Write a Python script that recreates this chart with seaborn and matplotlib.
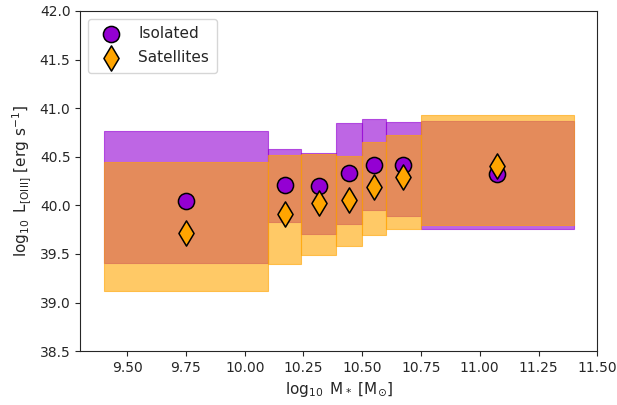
import numpy as np
import pandas as pd
import matplotlib
matplotlib.use("Agg")
import matplotlib.pyplot as plt
import seaborn as sns

# stellar-mass bin edges and centres
bin_lo = [9.40, 10.10, 10.24, 10.39, 10.50, 10.60, 10.75]
bin_hi = [10.10, 10.24, 10.39, 10.50, 10.60, 10.75, 11.40]
bin_mid = [9.75, 10.17, 10.315, 10.445, 10.55, 10.675, 11.075]

# isolated: median and spread
iso_med = [40.04, 40.21, 40.20, 40.33, 40.41, 40.41, 40.32]
iso_lo = [39.41, 39.83, 39.71, 39.81, 39.95, 39.89, 39.76]
iso_hi = [40.76, 40.58, 40.54, 40.85, 40.89, 40.86, 40.87]

# satellites: median and spread
sat_med = [39.72, 39.91, 40.02, 40.06, 40.19, 40.29, 40.40]
sat_lo = [39.12, 39.40, 39.49, 39.58, 39.69, 39.76, 39.80]
sat_hi = [40.45, 40.52, 40.53, 40.51, 40.65, 40.72, 40.93]

iso_col = "darkviolet"
sat_col = "orange"

sns.set_style("ticks")
plt.rcParams['font.family'] = ['DejaVu Sans']

fig = plt.figure(figsize=(6.17, 4.05), dpi=100)
ax = fig.add_axes([0.13, 0.133, 0.838, 0.84])

for i in range(len(bin_lo)):
    ax.fill_between([bin_lo[i], bin_hi[i]], iso_lo[i], iso_hi[i],
                    color=iso_col, alpha=0.6, lw=0.8)
for i in range(len(bin_lo)):
    ax.fill_between([bin_lo[i], bin_hi[i]], sat_lo[i], sat_hi[i],
                    color=sat_col, alpha=0.6, lw=0.8)

df_iso = pd.DataFrame({"mass": bin_mid, "lum": iso_med})
df_sat = pd.DataFrame({"mass": bin_mid, "lum": sat_med})

sns.scatterplot(data=df_iso, x="mass", y="lum", ax=ax, marker="o", s=135,
                color=iso_col, edgecolor="black", linewidth=1.1,
                label="Isolated", zorder=3)
sns.scatterplot(data=df_sat, x="mass", y="lum", ax=ax, marker="d", s=165,
                color=sat_col, edgecolor="black", linewidth=1.1,
                label="Satellites", zorder=4)

ax.set_xlim(9.3, 11.5)
ax.set_ylim(38.5, 42.0)
ax.set_xticks(np.arange(9.5, 11.51, 0.25))
ax.set_xticklabels([f"{v:.2f}" for v in np.arange(9.5, 11.51, 0.25)])
ax.set_yticks(np.arange(38.5, 42.01, 0.5))
ax.tick_params(labelsize=10)

ax.set_xlabel(r'$\log_{10}$ M$_*$ [M$_{\odot}$]', fontsize=11)
ax.set_ylabel(r'$\log_{10}$ L$_{\rm [OIII]}$ [erg s$^{-1}$]', fontsize=11)

ax.legend(loc="upper left", fontsize=11, frameon=True, borderpad=0.5,
          labelspacing=0.6)

fig.savefig("out.png", dpi=100)
